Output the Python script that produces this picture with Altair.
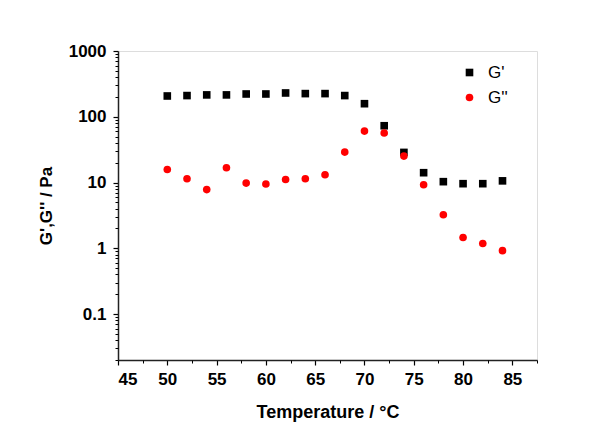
import altair as alt
import pandas as pd

temps = [50, 52, 54, 56, 58, 60, 62, 64, 66, 68, 70, 72, 74, 76, 78, 80, 82, 84]
g_prime = [207, 210, 215, 215, 222, 222, 230, 225, 225, 210, 158, 73, 28.7, 14.1, 10.3, 9.6, 9.6, 10.6]
g_double = [15.8, 11.4, 7.8, 16.8, 9.8, 9.5, 11.1, 11.4, 13.1, 29, 60.5, 56.5, 25.2, 9.25, 3.24, 1.46, 1.18, 0.92]

series_names = ["G'", "G''"]
series_colors = ["#000000", "#ff0000"]
series_shapes = ["square", "circle"]

x_major = [45, 50, 55, 60, 65, 70, 75, 80, 85]
x_minor = [47.5, 52.5, 57.5, 62.5, 67.5, 72.5, 77.5, 82.5, 87.5]
y_major = [0.1, 1, 10, 100, 1000]
y_minor = [m * d for d in [0.01, 0.1, 1, 10, 100] for m in range(2, 10) if m * d >= 0.02]

df = pd.DataFrame({
    "T": temps * 2,
    "G": g_prime + g_double,
    "series": [series_names[0]] * len(temps) + [series_names[1]] * len(temps),
})

FONT = "Liberation Sans"
xscale = alt.Scale(domain=[45, 87.5], nice=False, zero=False)
yscale = alt.Scale(type="log", domain=[0.02, 1000], nice=False)

main = alt.Chart(df).mark_point(filled=True, size=58, opacity=1).encode(
    x=alt.X("T:Q", scale=xscale, axis=alt.Axis(
        orient="bottom", values=x_major, title="Temperature / °C", grid=False,
        tickSize=5, tickColor="#000", domainColor="#222", domainWidth=1.5, tickWidth=1.2,
        labelFont=FONT, labelFontSize=17, labelFontWeight="bold", labelColor="#000", labelPadding=6,
        titleFont=FONT, titleFontSize=18, titleFontWeight="bold", titleColor="#000", titlePadding=16,
    )),
    y=alt.Y("G:Q", scale=yscale, axis=alt.Axis(
        orient="left", values=y_major, format="~g", title="G',G'' / Pa", grid=False,
        tickSize=5, tickColor="#000", domainColor="#222", domainWidth=1.5, tickWidth=1.2,
        labelFont=FONT, labelFontSize=17, labelFontWeight="bold", labelColor="#000", labelPadding=7,
        titleFont=FONT, titleFontSize=17, titleFontWeight="bold", titleColor="#000", titlePadding=13,
    )),
    color=alt.Color("series:N", scale=alt.Scale(domain=series_names, range=series_colors),
                    legend=alt.Legend(title=None, orient="none", legendX=343, legendY=13,
                                      labelFont=FONT, labelFontSize=17, labelColor="#000",
                                      symbolSize=58, labelOffset=10, rowPadding=7, padding=0)),
    shape=alt.Shape("series:N", scale=alt.Scale(domain=series_names, range=series_shapes), legend=None),
)

minor = alt.Chart(df).mark_point(opacity=0).encode(
    x=alt.X("T:Q", scale=xscale, axis=alt.Axis(
        orient="bottom", values=x_minor, labels=False, title=None, domain=False, grid=False,
        tickSize=3, tickColor="#000", tickWidth=1)),
    y=alt.Y("G:Q", scale=yscale, axis=alt.Axis(
        orient="left", values=y_minor, labels=False, title=None, domain=False, grid=False,
        tickSize=3, tickColor="#000", tickWidth=1)),
)

chart = alt.layer(main, minor).resolve_scale(x="shared", y="shared").resolve_axis(
    x="independent", y="independent"
).properties(
    width=419, height=309,
    padding={"left": 118, "top": 51, "right": 71, "bottom": 65},
    autosize="none",
).configure_view(strokeWidth=0).configure(background="white")

chart.save("out.html", embed_options={"renderer": "svg", "actions": False})
